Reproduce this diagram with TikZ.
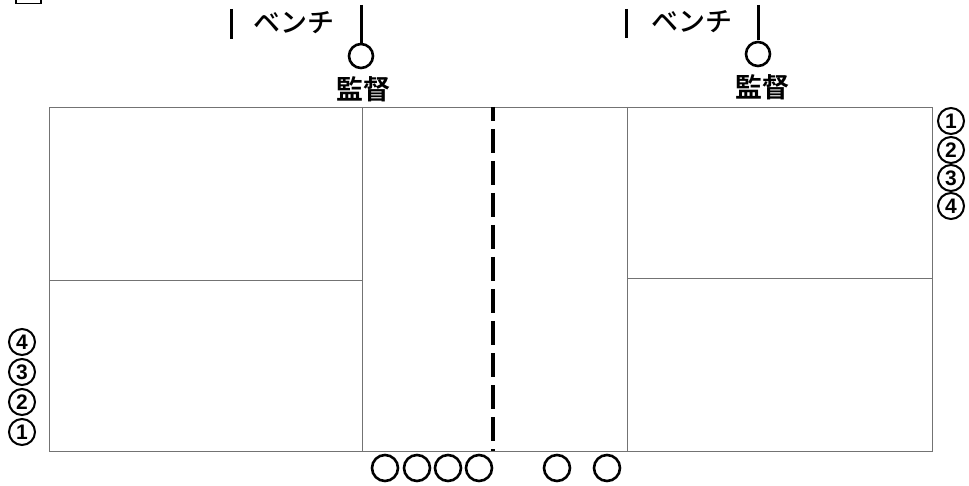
\documentclass[tikz,border=0pt]{standalone}
\usepackage{fontspec}
\newfontfamily\jpmed{Noto Sans CJK JP Medium}
\newfontfamily\jpbold{Noto Sans CJK JP Bold}
\newfontfamily\numfont{Liberation Sans Bold}
\begin{document}
\begin{tikzpicture}[x=1pt,y=-1pt,
  courtline/.style={draw=black!55,line width=0.8pt},
  benchbar/.style={line width=3pt,black},
  person/.style={circle,draw=black,line width=2.6pt,minimum size=24pt,inner sep=0pt},
  benchtext/.style={font=\jpmed\fontsize{27}{27}\selectfont,inner sep=0pt},
  coachtext/.style={font=\jpbold\fontsize{27}{27}\selectfont,inner sep=0pt},
  numcirc/.style={circle,draw=black,line width=2pt,minimum size=26pt,inner sep=0pt,
    font=\numfont\fontsize{21}{21}\selectfont}]
\useasboundingbox (0,0) rectangle (969,486);
% cut-off fragment at top left
\draw[line width=1.6pt] (16,0) -- (16,3.5) -- (41,3.5) -- (41,0);
% court
\coordinate (tl) at (49,107);
\coordinate (br) at (932,451);
\draw[courtline] (tl) rectangle (br);
\draw[courtline] (362,107) -- (362,451);
\draw[courtline] (627,107) -- (627,451);
\draw[courtline] (49,280) -- (362,280);
\draw[courtline] (627,278) -- (932,278);
\draw[line width=4.5pt,dash pattern=on 24pt off 8pt,dash phase=10pt] (493,107) -- (493,451);
% left bench
\draw[benchbar] (231,9) -- (231,39);
\draw[benchbar] (361,5) -- (361,43);
\node[benchtext] (bl) at (294,23) {ベンチ};
\node[person] (cl) at (361,56) {};
\node[coachtext] (kl) at (363,89) {監督};
% right bench
\draw[benchbar] (626,9) -- (626,38);
\draw[benchbar] (758,5) -- (758,40);
\node[benchtext] (br2) at (692,22) {ベンチ};
\node[person] (cr) at (758,54) {};
\node[coachtext] (kr) at (762,87) {監督};
% numbers right
\node[numcirc] (r1) at (951,121) {1};
\node[numcirc] (r2) at (951,150) {2};
\node[numcirc] (r3) at (951,178) {3};
\node[numcirc] (r4) at (951,206) {4};
% numbers left
\node[numcirc] (l4) at (22,342) {4};
\node[numcirc] (l3) at (22,372) {3};
\node[numcirc] (l2) at (22,402) {2};
\node[numcirc] (l1) at (22,432) {1};
% bottom players
\foreach \i/\x in {1/385,2/417,3/448,4/479,5/557,6/607}
  \node[person,minimum size=26pt] (p\i) at (\x,468) {};
\end{tikzpicture}
\end{document}
